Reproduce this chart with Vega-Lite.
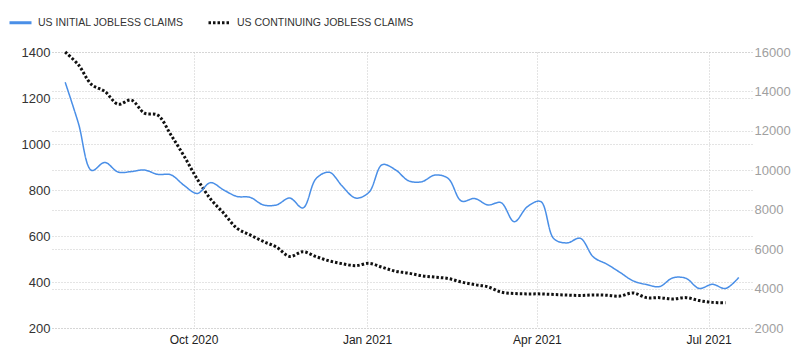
{
  "$schema": "https://vega.github.io/schema/vega-lite/v6.json",
  "width": 700,
  "height": 276,
  "autosize": "none",
  "padding": {"left": 52, "top": 52, "right": 48, "bottom": 35},
  "background": "white",
  "config": {
    "view": {"stroke": null},
    "font": "Liberation Sans",
    "axis": {"labelFont": "Liberation Sans", "domain": false, "ticks": false, "gridColor": "#c8c8c8", "gridDash": [1, 2], "gridWidth": 1}
  },
  "datasets": {
    "initial": [
      {"date": "2020-07-25", "claims": 1268},
      {"date": "2020-08-01", "claims": 1090},
      {"date": "2020-08-08", "claims": 885},
      {"date": "2020-08-15", "claims": 920},
      {"date": "2020-08-22", "claims": 878},
      {"date": "2020-08-29", "claims": 880},
      {"date": "2020-09-05", "claims": 887},
      {"date": "2020-09-12", "claims": 868},
      {"date": "2020-09-19", "claims": 866},
      {"date": "2020-09-26", "claims": 820},
      {"date": "2020-10-03", "claims": 785},
      {"date": "2020-10-10", "claims": 832},
      {"date": "2020-10-17", "claims": 800},
      {"date": "2020-10-24", "claims": 772},
      {"date": "2020-10-31", "claims": 768},
      {"date": "2020-11-07", "claims": 735},
      {"date": "2020-11-14", "claims": 735},
      {"date": "2020-11-21", "claims": 765},
      {"date": "2020-11-28", "claims": 722},
      {"date": "2020-12-05", "claims": 850},
      {"date": "2020-12-12", "claims": 877},
      {"date": "2020-12-19", "claims": 815},
      {"date": "2020-12-26", "claims": 765},
      {"date": "2021-01-02", "claims": 790},
      {"date": "2021-01-09", "claims": 910},
      {"date": "2021-01-16", "claims": 888},
      {"date": "2021-01-23", "claims": 840},
      {"date": "2021-01-30", "claims": 836},
      {"date": "2021-02-06", "claims": 865},
      {"date": "2021-02-13", "claims": 850},
      {"date": "2021-02-20", "claims": 752},
      {"date": "2021-02-27", "claims": 763},
      {"date": "2021-03-06", "claims": 735},
      {"date": "2021-03-13", "claims": 745},
      {"date": "2021-03-20", "claims": 662},
      {"date": "2021-03-27", "claims": 728},
      {"date": "2021-04-03", "claims": 750},
      {"date": "2021-04-10", "claims": 588},
      {"date": "2021-04-17", "claims": 570},
      {"date": "2021-04-24", "claims": 590},
      {"date": "2021-05-01", "claims": 508},
      {"date": "2021-05-08", "claims": 478},
      {"date": "2021-05-15", "claims": 442},
      {"date": "2021-05-22", "claims": 405},
      {"date": "2021-05-29", "claims": 389},
      {"date": "2021-06-05", "claims": 380},
      {"date": "2021-06-12", "claims": 418},
      {"date": "2021-06-19", "claims": 416},
      {"date": "2021-06-26", "claims": 372},
      {"date": "2021-07-03", "claims": 390},
      {"date": "2021-07-10", "claims": 372},
      {"date": "2021-07-17", "claims": 420}
    ],
    "continuing": [
      {"date": "2020-07-25", "claims": 16000},
      {"date": "2020-08-01", "claims": 15350},
      {"date": "2020-08-08", "claims": 14350},
      {"date": "2020-08-15", "claims": 14000},
      {"date": "2020-08-22", "claims": 13350},
      {"date": "2020-08-29", "claims": 13560},
      {"date": "2020-09-05", "claims": 12900},
      {"date": "2020-09-12", "claims": 12800},
      {"date": "2020-09-19", "claims": 11800},
      {"date": "2020-09-26", "claims": 10720},
      {"date": "2020-10-03", "claims": 9550},
      {"date": "2020-10-10", "claims": 8550},
      {"date": "2020-10-17", "claims": 7820},
      {"date": "2020-10-24", "claims": 7060},
      {"date": "2020-10-31", "claims": 6720},
      {"date": "2020-11-07", "claims": 6390},
      {"date": "2020-11-14", "claims": 6100},
      {"date": "2020-11-21", "claims": 5630},
      {"date": "2020-11-28", "claims": 5870},
      {"date": "2020-12-05", "claims": 5620},
      {"date": "2020-12-12", "claims": 5400},
      {"date": "2020-12-19", "claims": 5260},
      {"date": "2020-12-26", "claims": 5160},
      {"date": "2021-01-02", "claims": 5280},
      {"date": "2021-01-09", "claims": 5080},
      {"date": "2021-01-16", "claims": 4880},
      {"date": "2021-01-23", "claims": 4780},
      {"date": "2021-01-30", "claims": 4650},
      {"date": "2021-02-06", "claims": 4580},
      {"date": "2021-02-13", "claims": 4510},
      {"date": "2021-02-20", "claims": 4330},
      {"date": "2021-02-27", "claims": 4200},
      {"date": "2021-03-06", "claims": 4090},
      {"date": "2021-03-13", "claims": 3820},
      {"date": "2021-03-20", "claims": 3750},
      {"date": "2021-03-27", "claims": 3730},
      {"date": "2021-04-03", "claims": 3730},
      {"date": "2021-04-10", "claims": 3700},
      {"date": "2021-04-17", "claims": 3670},
      {"date": "2021-04-24", "claims": 3650},
      {"date": "2021-05-01", "claims": 3680},
      {"date": "2021-05-08", "claims": 3660},
      {"date": "2021-05-15", "claims": 3620},
      {"date": "2021-05-22", "claims": 3780},
      {"date": "2021-05-29", "claims": 3540},
      {"date": "2021-06-05", "claims": 3540},
      {"date": "2021-06-12", "claims": 3470},
      {"date": "2021-06-19", "claims": 3540},
      {"date": "2021-06-26", "claims": 3390},
      {"date": "2021-07-03", "claims": 3300},
      {"date": "2021-07-10", "claims": 3280}
    ]
  },
  "encoding": {
    "x": {
      "field": "date",
      "type": "temporal",
      "scale": {"domain": ["2020-07-18", "2021-07-24"]},
      "axis": {
        "title": null,
        "values": ["2020-10-01", "2021-01-01", "2021-04-01", "2021-07-01"],
        "format": "%b %Y",
        "labelFontSize": 12,
        "labelColor": "#222",
        "labelPadding": 6,
        "grid": true
      }
    }
  },
  "layer": [
    {
      "data": {"name": "continuing"},
      "mark": {"type": "line", "interpolate": "catmull-rom", "strokeWidth": 3, "strokeCap": "butt"},
      "encoding": {
        "y": {
          "field": "claims",
          "type": "quantitative",
          "scale": {"domain": [2000, 16000], "nice": false, "zero": false},
          "axis": {"orient": "right", "title": null, "values": [2000, 4000, 6000, 8000, 10000, 12000, 14000, 16000], "format": "d", "labelFontSize": 13, "labelColor": "#a0a0a0", "labelPadding": 2, "grid": true}
        },
        "color": {"datum": "US CONTINUING JOBLESS CLAIMS", "type": "nominal"},
        "strokeDash": {"datum": "US CONTINUING JOBLESS CLAIMS", "type": "nominal"}
      }
    },
    {
      "data": {"name": "initial"},
      "mark": {"type": "line", "interpolate": "catmull-rom", "strokeWidth": 1.5},
      "encoding": {
        "y": {
          "field": "claims",
          "type": "quantitative",
          "scale": {"domain": [200, 1400], "nice": false, "zero": false},
          "axis": {"orient": "left", "title": null, "values": [200, 400, 600, 800, 1000, 1200, 1400], "format": "d", "labelFontSize": 13, "labelColor": "#333", "labelPadding": 2, "grid": true}
        },
        "color": {
          "datum": "US INITIAL JOBLESS CLAIMS",
          "type": "nominal",
          "scale": {"domain": ["US INITIAL JOBLESS CLAIMS", "US CONTINUING JOBLESS CLAIMS"], "range": ["#4a8fe7", "#111111"]},
          "legend": {
            "title": null,
            "orient": "none",
            "legendX": -44,
            "legendY": -42,
            "direction": "horizontal",
            "symbolType": "stroke",
            "symbolSize": 484,
            "symbolStrokeWidth": 3,
            "labelFontSize": 10.5,
            "labelColor": "#333",
            "labelOffset": 5,
            "labelLimit": 400,
            "columnPadding": 18
          }
        },
        "strokeDash": {
          "datum": "US INITIAL JOBLESS CLAIMS",
          "type": "nominal",
          "scale": {"domain": ["US INITIAL JOBLESS CLAIMS", "US CONTINUING JOBLESS CLAIMS"], "range": [[1, 0], [2.5, 2]]},
          "legend": {
            "title": null,
            "orient": "none",
            "legendX": -44,
            "legendY": -42,
            "direction": "horizontal",
            "symbolType": "stroke",
            "symbolSize": 484,
            "symbolStrokeWidth": 3,
            "labelFontSize": 10.5,
            "labelColor": "#333",
            "labelOffset": 5,
            "labelLimit": 400,
            "columnPadding": 18
          }
        }
      }
    }
  ],
  "resolve": {"scale": {"y": "independent"}}
}
